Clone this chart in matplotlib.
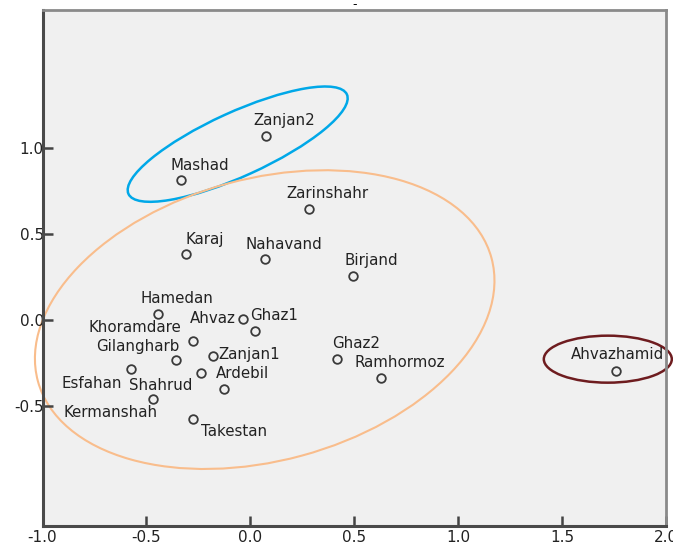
import matplotlib.pyplot as plt
from matplotlib.patches import Ellipse
import matplotlib.transforms as mtransforms

# object points (dimension 1, dimension 2)
names = ['Zanjan2', 'Mashad', 'Zarinshahr', 'Karaj', 'Nahavand', 'Birjand',
         'Hamedan', 'Ahvaz', 'Ghaz1', 'Khoramdare', 'Gilangharb', 'Zanjan1',
         'Esfahan', 'Shahrud', 'Ardebil', 'Kermanshah', 'Takestan', 'Ghaz2',
         'Ramhormoz', 'Ahvazhamid']
dim1 = [0.074, -0.336, 0.281, -0.310, 0.069, 0.493,
        -0.446, -0.037, 0.021, -0.278, -0.360, -0.182,
        -0.576, -0.239, -0.129, -0.470, -0.278, 0.416,
        0.627, 1.759]
dim2 = [1.070, 0.810, 0.645, 0.380, 0.350, 0.256,
        0.035, 0.006, -0.064, -0.122, -0.233, -0.209,
        -0.285, -0.308, -0.401, -0.459, -0.575, -0.227,
        -0.337, -0.297]

x_ticks = [-1.0, -0.5, 0.0, 0.5, 1.0, 1.5, 2.0]
y_ticks = [-0.5, 0.0, 0.5, 1.0]

# label placement (pixels from the point), default is up-right
default_off = (19, 15)
label_off = {'Ahvaz': (-30, 0), 'Khoramdare': (-58, 13), 'Gilangharb': (-38, 13),
             'Zanjan1': (37, 1), 'Esfahan': (-39, -15), 'Shahrud': (-40, -13),
             'Kermanshah': (-42, -14), 'Takestan': (41, -13), 'Ahvazhamid': (2, 16)}

# group outlines: centre (data), semi axes (px), angle, colour
groups = [((-0.061, 1.020), 120, 32, 24.5, '#00a8e8', 1.8),
          ((0.069, 0.0), 235, 141, 15.2, '#f9bd8c', 1.5),
          ((1.720, -0.230), 64, 23.5, 0, '#6e1c1f', 1.8)]

fig = plt.figure(figsize=(6.73, 5.46), dpi=100)
ax = fig.add_axes([0.0632, 0.0366, 0.9264, 0.9451])
ax.set_facecolor('#f0f0f0')

ax.plot(dim1, dim2, 'o', ms=6.2, mfc='none', mec='#3a3a3a', mew=1.3)

for n, x, y in zip(names, dim1, dim2):
    off = label_off.get(n, default_off)
    ax.annotate(n, (x, y), xytext=off, textcoords='offset pixels',
                ha='center', va='center', fontsize=10.8, color='#222222',
                annotation_clip=False)

ax.set_xlim(-1.0, 2.0)
ax.set_ylim(-1.2, 1.8)

for c, a, b, ang, col, lw in groups:
    tr = mtransforms.Affine2D().scale(fig.dpi / 100) + \
        mtransforms.ScaledTranslation(c[0], c[1], ax.transData)
    e = Ellipse((0, 0), 2 * a, 2 * b, angle=ang, transform=tr,
                fill=False, edgecolor=col, lw=lw, clip_on=False)
    ax.add_patch(e)

ax.set_xticks(x_ticks)
ax.set_xticklabels([f'{v:.1f}' for v in x_ticks])
ax.set_yticks(y_ticks)
ax.set_yticklabels([f'{v:.1f}' for v in y_ticks])
ax.tick_params(direction='in', length=7, width=1.8, color='#444444',
               labelsize=11, labelcolor='#222222')
ax.tick_params(axis='y', pad=-1)
ax.tick_params(axis='x', pad=3)

for s in ['left', 'bottom']:
    ax.spines[s].set_color('#4a4a4a')
    ax.spines[s].set_linewidth(2.2)
for s in ['top', 'right']:
    ax.spines[s].set_color('#8a8a8a')
    ax.spines[s].set_linewidth(2.0)

fig.text(355 / 673, 1 - 5 / 546, '-', ha='center', va='center', fontsize=9)

plt.savefig('out.png', dpi=100)
